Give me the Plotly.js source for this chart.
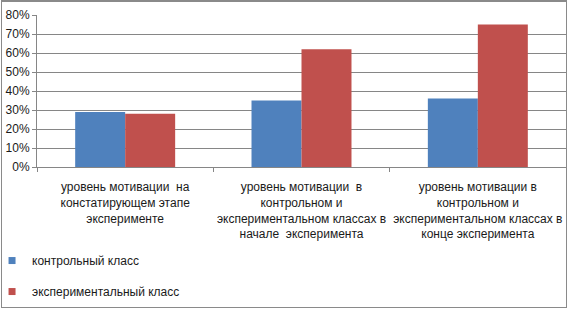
<!DOCTYPE html>
<html>
<head>
<meta charset="utf-8">
<script src="https://cdn.plot.ly/plotly-3.0.1.min.js"></script>
<style>
  html, body { margin: 0; padding: 0; background: #fff; }
  #wrap { position: relative; width: 569px; height: 309px; }
  #chart { position: absolute; left: 0; top: 0; width: 569px; height: 309px; }
  #frame { position: absolute; left: 1px; top: 0px; width: 566px; height: 308px; box-sizing: border-box;
           border: 1px solid #8a8a8a; border-top-width: 2px; pointer-events: none; }
</style>
</head>
<body>
<div id="wrap">
  <div id="chart"></div>
  <div id="frame"></div>
</div>
<script>
const categories = [
  "уровень мотивации  на<br>констатирующем этапе<br>эксперименте",
  "уровень мотивации  в<br>контрольном и<br>экспериментальном классах в<br>начале  эксперимента",
  "уровень мотивации в<br>контрольном и<br>экспериментальном классах в<br>конце эксперимента"
];
const seriesNames = ["контрольный класс", "экспериментальный класс"];
const controlValues = [0.29, 0.35, 0.36];
const experimentalValues = [0.28, 0.62, 0.75];
const yTickValues = [0, 0.1, 0.2, 0.3, 0.4, 0.5, 0.6, 0.7, 0.8];

const colors = ["#4F81BD", "#C0504D"];
const font = { family: "Liberation Sans, Arial, sans-serif", size: 12, color: "#1a1a1a" };

const traces = [
  { type: "bar", x: categories, y: controlValues, name: seriesNames[0], marker: { color: colors[0] }, showlegend: false },
  { type: "bar", x: categories, y: experimentalValues, name: seriesNames[1], marker: { color: colors[1] }, showlegend: false },
  { type: "scatter", mode: "markers", x: [null], y: [null], name: seriesNames[0], legendgroup: "a",
    marker: { symbol: "square", size: 7, color: colors[0] }, hoverinfo: "skip" },
  { type: "scatter", mode: "markers", x: [null], y: [null], name: seriesNames[1], legendgroup: "b",
    marker: { symbol: "square", size: 7, color: colors[1] }, hoverinfo: "skip" }
];

const layout = {
  width: 569, height: 309,
  margin: { l: 37, r: 3, t: 15, b: 142, pad: 0, autoexpand: false },
  paper_bgcolor: "#fff",
  plot_bgcolor: "#fff",
  font: font,
  barmode: "group",
  bargap: 0.433,
  bargroupgap: 0,
  xaxis: {
    type: "category",
    automargin: false,
    showgrid: false,
    showline: true, linecolor: "#868686", linewidth: 1,
    ticks: "outside", tickson: "boundaries", ticklen: 4, tickcolor: "#868686",
    tickangle: 0,
    tickfont: font,
    ticklabelstandoff: 9,
    fixedrange: true
  },
  yaxis: {
    automargin: false,
    range: [0, 0.8],
    tickvals: yTickValues,
    tickformat: ".0%",
    showgrid: true, gridcolor: "#868686", gridwidth: 1,
    showline: true, linecolor: "#868686", linewidth: 1,
    ticks: "outside", ticklen: 4, tickcolor: "#868686",
    tickfont: font,
    zeroline: false,
    fixedrange: true
  },
  showlegend: true,
  legend: {
    orientation: "v",
    x: -0.085, xanchor: "left",
    y: -0.52, yanchor: "top",
    traceorder: "grouped",
    tracegroupgap: 12,
    font: font,
    bgcolor: "rgba(0,0,0,0)",
    itemclick: false, itemdoubleclick: false
  }
};

Plotly.newPlot("chart", traces, layout, { staticPlot: true, displayModeBar: false });
</script>
</body>
</html>
